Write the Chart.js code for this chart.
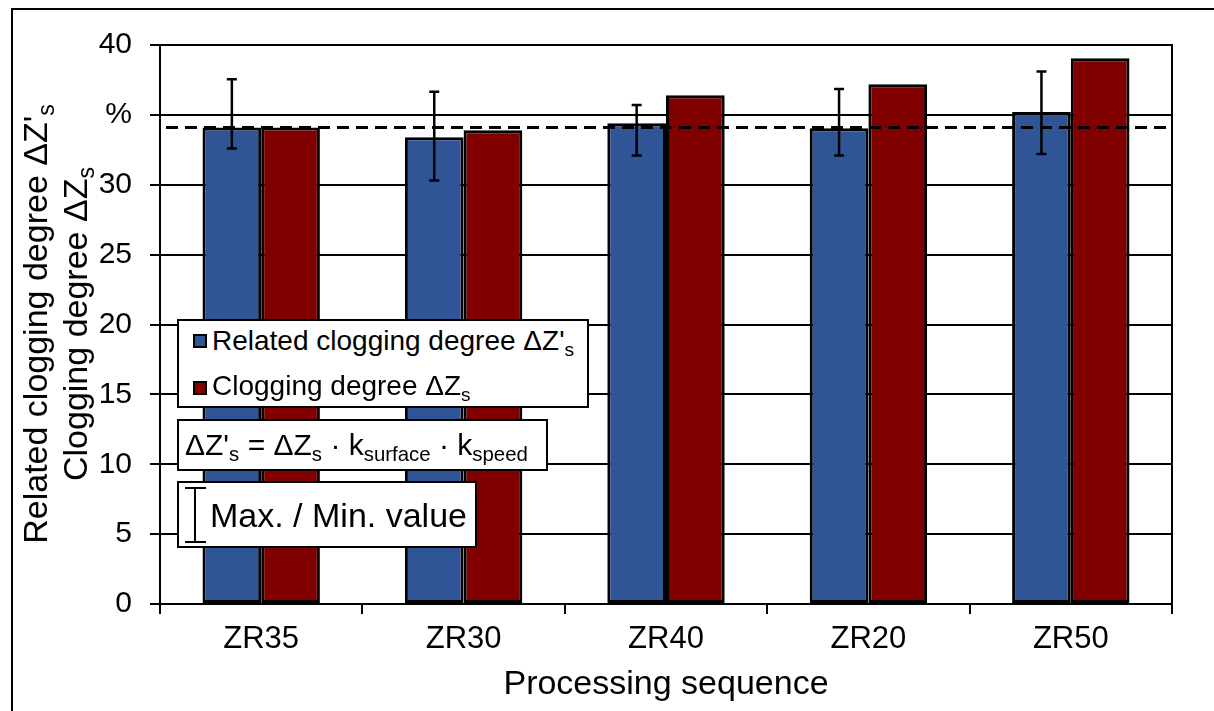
<!DOCTYPE html>
<html>
<head>
<meta charset="utf-8">
<script src="https://cdn.jsdelivr.net/npm/chart.js@4.4.1/dist/chart.umd.min.js"></script>
<style>
html,body{margin:0;padding:0;background:#fff;overflow:hidden;}
#wrap{position:relative;width:1214px;height:711px;overflow:hidden;font-family:"Liberation Sans",Arial,Helvetica,sans-serif;color:#000;}
#frame{position:absolute;left:11px;top:8px;width:1300px;height:800px;border:2px solid #000;}
#c{position:absolute;left:0;top:0;}
.box{position:absolute;background:#fff;border:2px solid #000;box-sizing:border-box;}
.t{position:absolute;white-space:nowrap;line-height:1;}
sub{font-size:0.68em;vertical-align:-0.3em;line-height:0;}
.sw{position:absolute;width:14px;height:14px;border:2px solid #000;box-sizing:border-box;}
#ytitle{position:absolute;left:-245px;top:284px;width:600px;height:80px;transform:rotate(-90deg);text-align:center;font-size:34px;line-height:40px;}
</style>
</head>
<body>
<div id="wrap">
  <div id="frame"></div>
  <canvas id="c" width="1214" height="711"></canvas>
  <div id="ytitle"><div>Related clogging degree ΔZ'<sub>s</sub></div><div>Clogging degree ΔZ<sub>s</sub></div></div>
  <div class="box" style="left:177px;top:319px;width:412px;height:89px;"></div>
  <div class="sw" id="sw0" style="left:193px;top:334px;"></div>
  <div class="t" style="left:212px;top:327px;font-size:28px;">Related clogging degree ΔZ'<sub>s</sub></div>
  <div class="sw" id="sw1" style="left:193px;top:381px;"></div>
  <div class="t" style="left:212px;top:372px;font-size:28px;">Clogging degree ΔZ<sub>s</sub></div>
  <div class="box" style="left:177px;top:419px;width:371px;height:52px;"></div>
  <div class="t" style="left:185px;top:430px;font-size:30px;">ΔZ'<sub>s</sub> = ΔZ<sub>s</sub> · k<sub>surface</sub> · k<sub>speed</sub></div>
  <div class="box" style="left:177px;top:481px;width:300px;height:67px;"></div>
  <div style="position:absolute;left:194px;top:488px;width:2px;height:54px;background:#000;"></div>
  <div style="position:absolute;left:185px;top:487px;width:21px;height:2px;background:#000;"></div>
  <div style="position:absolute;left:185px;top:541px;width:21px;height:2px;background:#000;"></div>
  <div class="t" style="left:210px;top:498px;font-size:34px;">Max. / Min. value</div>
</div>
<script>
const categories = ['ZR35', 'ZR30', 'ZR40', 'ZR20', 'ZR50'];
const relatedValues = [34.1, 33.4, 34.4, 34.05, 35.2];
const cloggingValues = [34.1, 33.9, 36.4, 37.2, 39.05];
const relatedMax = [37.55, 36.65, 35.7, 36.85, 38.1];
const relatedMin = [32.6, 30.3, 32.1, 32.1, 32.2];
const referenceLevel = 34.1;
const yTickLabels = ['0', '5', '10', '15', '20', '25', '30', '%', '40'];
const seriesLabels = ["Related clogging degree ΔZ's", 'Clogging degree ΔZs'];
const seriesColors = ['#2F5597', '#800000'];

document.getElementById('sw0').style.background = seriesColors[0];
document.getElementById('sw1').style.background = seriesColors[1];

const FONT = '"Liberation Sans", Arial, Helvetica, sans-serif';

const decorPlugin = {
  id: 'decor',
  afterDatasetsDraw(chart) {
    const ctx = chart.ctx;
    const ca = chart.chartArea;
    const y = chart.scales.y;
    ctx.save();
    ctx.strokeStyle = '#000';
    ctx.lineWidth = 2;
    ctx.strokeRect(ca.left, ca.top, ca.right - ca.left, ca.bottom - ca.top);
    const ry = y.getPixelForValue(referenceLevel);
    ctx.setLineDash([12, 7]);
    ctx.lineWidth = 3;
    ctx.beginPath();
    ctx.moveTo(ca.left + 6, ry);
    ctx.lineTo(ca.right - 4, ry);
    ctx.stroke();
    ctx.setLineDash([]);
    const meta = chart.getDatasetMeta(0);
    ctx.lineWidth = 2.5;
    meta.data.forEach((bar, i) => {
      const x = bar.x;
      const yt = y.getPixelForValue(relatedMax[i]);
      const yb = y.getPixelForValue(relatedMin[i]);
      ctx.beginPath();
      ctx.moveTo(x, yt); ctx.lineTo(x, yb);
      ctx.moveTo(x - 5, yt); ctx.lineTo(x + 5, yt);
      ctx.moveTo(x - 5, yb); ctx.lineTo(x + 5, yb);
      ctx.stroke();
    });
    ctx.restore();
  }
};

new Chart(document.getElementById('c'), {
  type: 'bar',
  data: {
    labels: categories,
    datasets: [
      { label: seriesLabels[0], data: relatedValues, backgroundColor: seriesColors[0], borderColor: '#000', borderWidth: 3, borderSkipped: false },
      { label: seriesLabels[1], data: cloggingValues, backgroundColor: seriesColors[1], borderColor: '#000', borderWidth: 3, borderSkipped: false }
    ]
  },
  options: {
    responsive: false,
    animation: false,
    devicePixelRatio: 1,
    datasets: { bar: { categoryPercentage: 0.58, barPercentage: 1.0 } },
    layout: { padding: { left: 0, right: 42, top: 45, bottom: 0 } },
    plugins: { legend: { display: false }, tooltip: { enabled: false } },
    scales: {
      x: {
        grid: { display: true, drawOnChartArea: false, color: '#000', lineWidth: 2, tickLength: 10, offset: true },
        border: { color: '#000', width: 2 },
        ticks: { color: '#000', font: { size: 31, family: FONT }, padding: 7, maxRotation: 0 },
        title: { display: true, text: 'Processing sequence', color: '#000', font: { size: 34, family: FONT }, padding: { top: 0, bottom: 6 } },
        afterFit(s) { s.height = 107; }
      },
      y: {
        min: 0, max: 40,
        ticks: { stepSize: 5, color: '#000', font: { size: 30, family: FONT }, padding: 18,
          callback: (v, i) => yTickLabels[i] },
        grid: { color: '#000', lineWidth: 2, tickLength: 10 },
        border: { color: '#000', width: 2 },
        afterFit(s) { s.width = 160; }
      }
    }
  },
  plugins: [decorPlugin]
});
</script>
</body>
</html>
